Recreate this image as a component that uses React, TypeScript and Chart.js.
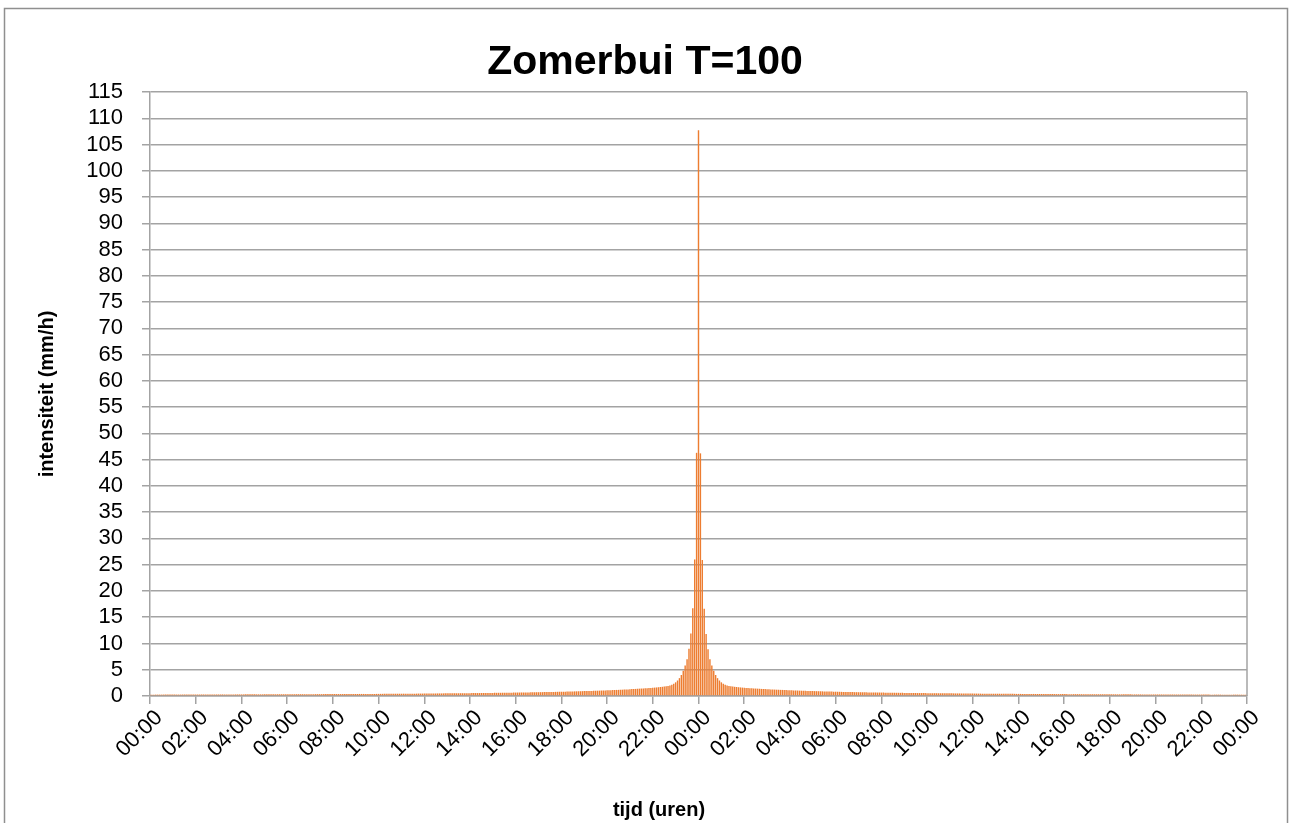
import React, { useEffect, useRef } from "react";
import { Chart, registerables } from "chart.js";

Chart.register(...registerables);

const chartTitle = "Zomerbui T=100";
const yAxisTitle = "intensiteit (mm/h)";
const xAxisTitle = "tijd (uren)";
const stepMinutes = 5;

const tickLabels = [
  "00:00", "02:00", "04:00", "06:00", "08:00", "10:00", "12:00", "14:00", "16:00", "18:00", "20:00", "22:00",
  "00:00", "02:00", "04:00", "06:00", "08:00", "10:00", "12:00", "14:00", "16:00", "18:00", "20:00", "22:00",
  "00:00",
];

// intensity (mm/h) per 5 minutes, day 1 (00:00 - 23:55)
const firstDayIntensity = [
  0.26, 0.26, 0.26, 0.26, 0.26, 0.26, 0.26, 0.27, 0.27, 0.27, 0.27, 0.27,
  0.27, 0.27, 0.27, 0.27, 0.27, 0.28, 0.28, 0.28, 0.28, 0.28, 0.28, 0.28,
  0.28, 0.28, 0.28, 0.29, 0.29, 0.29, 0.29, 0.29, 0.29, 0.29, 0.29, 0.29,
  0.29, 0.29, 0.30, 0.30, 0.30, 0.30, 0.30, 0.30, 0.30, 0.30, 0.30, 0.30,
  0.30, 0.30, 0.31, 0.31, 0.31, 0.31, 0.31, 0.31, 0.31, 0.31, 0.31, 0.31,
  0.31, 0.32, 0.32, 0.32, 0.32, 0.32, 0.32, 0.33, 0.33, 0.33, 0.33, 0.33,
  0.33, 0.33, 0.33, 0.33, 0.33, 0.34, 0.34, 0.34, 0.34, 0.34, 0.34, 0.34,
  0.34, 0.35, 0.35, 0.35, 0.35, 0.35, 0.35, 0.36, 0.36, 0.36, 0.36, 0.36,
  0.36, 0.36, 0.37, 0.37, 0.37, 0.37, 0.37, 0.38, 0.38, 0.38, 0.38, 0.38,
  0.38, 0.38, 0.39, 0.39, 0.39, 0.39, 0.39, 0.40, 0.40, 0.40, 0.40, 0.40,
  0.40, 0.41, 0.41, 0.41, 0.41, 0.42, 0.42, 0.42, 0.42, 0.43, 0.43, 0.43,
  0.43, 0.44, 0.44, 0.44, 0.44, 0.45, 0.45, 0.45, 0.45, 0.46, 0.46, 0.46,
  0.46, 0.47, 0.47, 0.47, 0.48, 0.48, 0.48, 0.49, 0.49, 0.49, 0.50, 0.50,
  0.50, 0.51, 0.51, 0.51, 0.52, 0.52, 0.52, 0.53, 0.53, 0.53, 0.54, 0.54,
  0.54, 0.55, 0.55, 0.56, 0.56, 0.56, 0.57, 0.57, 0.58, 0.58, 0.58, 0.59,
  0.59, 0.60, 0.60, 0.61, 0.61, 0.62, 0.62, 0.63, 0.63, 0.64, 0.64, 0.65,
  0.65, 0.66, 0.66, 0.67, 0.67, 0.68, 0.69, 0.69, 0.70, 0.70, 0.71, 0.72,
  0.72, 0.73, 0.73, 0.74, 0.75, 0.76, 0.76, 0.77, 0.78, 0.79, 0.80, 0.81,
  0.81, 0.82, 0.83, 0.84, 0.85, 0.86, 0.87, 0.88, 0.89, 0.90, 0.91, 0.92,
  0.93, 0.94, 0.95, 0.96, 0.97, 0.99, 1.00, 1.01, 1.02, 1.04, 1.05, 1.07,
  1.08, 1.10, 1.11, 1.13, 1.14, 1.16, 1.17, 1.19, 1.20, 1.22, 1.24, 1.25,
  1.29, 1.31, 1.33, 1.35, 1.38, 1.40, 1.42, 1.44, 1.47, 1.49, 1.52, 1.54,
  1.57, 1.60, 1.63, 1.67, 1.71, 1.75, 1.80, 1.86, 1.92, 2.00, 2.15, 2.35,
  2.60, 2.95, 3.40, 4.00, 4.80, 5.80, 7.00, 9.00, 11.90, 16.70, 26.00, 46.30,
];

// intensity (mm/h) at 00:00 of day 2
const peakIntensity = [107.7];

// intensity (mm/h) per 5 minutes, day 2 (00:05 - 24:00)
const secondDayIntensity = [
  46.20, 25.90, 16.60, 11.80, 8.90, 7.00, 5.80, 4.80, 4.00, 3.40, 2.95, 2.60,
  2.35, 2.15, 2.00, 1.92, 1.86, 1.80, 1.75, 1.71, 1.67, 1.63, 1.60, 1.57,
  1.54, 1.52, 1.49, 1.47, 1.44, 1.42, 1.40, 1.38, 1.35, 1.33, 1.31, 1.29,
  1.27, 1.25, 1.24, 1.22, 1.20, 1.19, 1.17, 1.16, 1.14, 1.13, 1.11, 1.10,
  1.08, 1.07, 1.05, 1.04, 1.02, 1.01, 1.00, 0.99, 0.97, 0.96, 0.95, 0.94,
  0.93, 0.92, 0.91, 0.90, 0.89, 0.88, 0.87, 0.86, 0.85, 0.84, 0.83, 0.82,
  0.81, 0.80, 0.79, 0.78, 0.77, 0.76, 0.76, 0.75, 0.74, 0.73, 0.73, 0.72,
  0.72, 0.71, 0.70, 0.70, 0.69, 0.69, 0.68, 0.67, 0.67, 0.66, 0.66, 0.65,
  0.65, 0.64, 0.64, 0.63, 0.63, 0.62, 0.62, 0.61, 0.61, 0.60, 0.60, 0.59,
  0.59, 0.58, 0.58, 0.58, 0.57, 0.57, 0.56, 0.56, 0.56, 0.55, 0.55, 0.54,
  0.54, 0.54, 0.53, 0.53, 0.53, 0.52, 0.52, 0.52, 0.51, 0.51, 0.51, 0.50,
  0.50, 0.50, 0.49, 0.49, 0.49, 0.48, 0.48, 0.48, 0.47, 0.47, 0.47, 0.46,
  0.46, 0.46, 0.45, 0.45, 0.45, 0.45, 0.44, 0.44, 0.44, 0.44, 0.43, 0.43,
  0.43, 0.43, 0.42, 0.42, 0.42, 0.42, 0.41, 0.41, 0.41, 0.41, 0.40, 0.40,
  0.40, 0.40, 0.40, 0.39, 0.39, 0.39, 0.39, 0.39, 0.38, 0.38, 0.38, 0.38,
  0.38, 0.38, 0.37, 0.37, 0.37, 0.37, 0.37, 0.36, 0.36, 0.36, 0.36, 0.36,
  0.36, 0.35, 0.35, 0.35, 0.35, 0.35, 0.35, 0.34, 0.34, 0.34, 0.34, 0.34,
  0.34, 0.34, 0.33, 0.33, 0.33, 0.33, 0.33, 0.33, 0.33, 0.32, 0.32, 0.32,
  0.32, 0.32, 0.32, 0.31, 0.31, 0.31, 0.31, 0.31, 0.31, 0.31, 0.31, 0.30,
  0.30, 0.30, 0.30, 0.30, 0.30, 0.30, 0.30, 0.30, 0.29, 0.29, 0.29, 0.29,
  0.29, 0.29, 0.29, 0.29, 0.29, 0.29, 0.28, 0.28, 0.28, 0.28, 0.28, 0.28,
  0.28, 0.28, 0.28, 0.28, 0.27, 0.27, 0.27, 0.27, 0.27, 0.27, 0.27, 0.27,
  0.27, 0.27, 0.27, 0.27, 0.26, 0.26, 0.26, 0.26, 0.26, 0.26, 0.26, 0.26,
  0.26, 0.26, 0.26, 0.26, 0.26, 0.26, 0.26, 0.25, 0.25, 0.25, 0.25, 0.25,
];

const FONT = "'Liberation Sans', Arial, sans-serif";
const BAR_COLOR = "#ED7D31";
const GRID_COLOR = "#a3a3a3";

export default function App() {
  const canvasRef = useRef<HTMLCanvasElement | null>(null);

  useEffect(() => {
    const canvas = canvasRef.current;
    if (!canvas) return;
    const values = [...firstDayIntensity, ...peakIntensity, ...secondDayIntensity];
    const points = values.map((v, i) => ({ x: (i * stepMinutes) / 60, y: v }));

    const framePlugin = {
      id: "frame",
      beforeDraw(chart: any) {
        const ctx = chart.ctx;
        ctx.save();
        ctx.fillStyle = "#ffffff";
        ctx.fillRect(0, 0, chart.width, chart.height);
        ctx.strokeStyle = "#8f8f8f";
        ctx.lineWidth = 1.5;
        ctx.strokeRect(4.5, 8.5, 1283, 830);
        ctx.restore();
      },
      afterDraw(chart: any) {
        const ctx = chart.ctx;
        const a = chart.chartArea;
        ctx.save();
        ctx.strokeStyle = GRID_COLOR;
        ctx.lineWidth = 1.5;
        ctx.beginPath();
        ctx.moveTo(a.right, a.top);
        ctx.lineTo(a.right, a.bottom);
        ctx.stroke();
        ctx.fillStyle = "#000";
        ctx.textAlign = "center";
        ctx.textBaseline = "middle";
        ctx.font = `bold 41px ${FONT}`;
        ctx.fillText(chartTitle, 645, 63);
        ctx.font = `bold 20px ${FONT}`;
        ctx.fillText(xAxisTitle, 659, 810);
        ctx.restore();
      },
    };

    const chart = new Chart(canvas, {
      type: "bar",
      data: {
        datasets: [
          {
            data: points,
            backgroundColor: BAR_COLOR,
            borderWidth: 0,
            categoryPercentage: 1,
            barPercentage: 0.75,
          },
        ],
      },
      options: {
        responsive: false,
        animation: false,
        devicePixelRatio: 1,
        layout: { padding: { top: 92, right: 43, bottom: 0, left: 0 } },
        plugins: {
          legend: { display: false },
          title: { display: false },
          tooltip: { enabled: false },
        },
        scales: {
          x: {
            type: "linear",
            min: 0,
            max: 48,
            offset: false,
            grid: {
              offset: false,
              display: true,
              drawOnChartArea: false,
              drawTicks: true,
              tickLength: 8,
              color: GRID_COLOR,
              lineWidth: 1.5,
            },
            border: { display: true, color: GRID_COLOR, width: 1.5 },
            ticks: {
              stepSize: 2,
              autoSkip: false,
              maxRotation: 45,
              minRotation: 45,
              padding: 1,
              labelOffset: 9,
              color: "#000",
              font: { family: FONT, size: 22 },
              callback: (_v: any, i: number) => tickLabels[i],
            },
            title: { display: false },
            afterFit: (scale: any) => {
              scale.height = 127;
            },
          },
          y: {
            min: 0,
            max: 115,
            grid: {
              color: GRID_COLOR,
              lineWidth: 1.5,
              drawTicks: true,
              tickLength: 8,
            },
            border: { display: true, color: GRID_COLOR, width: 1.5 },
            ticks: {
              stepSize: 5,
              autoSkip: false,
              padding: 19,
              color: "#000",
              font: { family: FONT, size: 22 },
            },
            title: {
              display: true,
              text: yAxisTitle,
              color: "#000",
              font: { family: FONT, size: 20, weight: "bold" },
              padding: { top: 35, bottom: 0 },
            },
            afterFit: (scale: any) => {
              scale.width = 150;
            },
          },
        },
      },
      plugins: [framePlugin],
    } as any);

    return () => chart.destroy();
  }, []);

  return (
    <div style={{ position: "fixed", left: 0, top: 0, width: 1290, height: 823, background: "#fff" }}>
      <canvas ref={canvasRef} width={1290} height={823} style={{ display: "block" }} />
    </div>
  );
}
